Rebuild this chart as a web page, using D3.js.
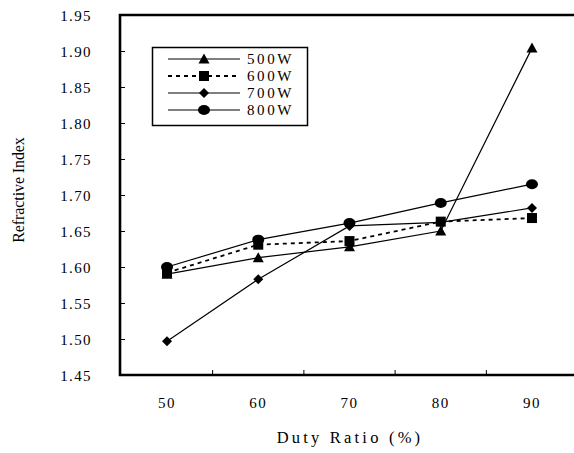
<!DOCTYPE html>
<html>
<head>
<meta charset="utf-8">
<script src="https://cdn.jsdelivr.net/npm/d3@7"></script>
<style>
  body { margin: 0; background: #fff; }
</style>
</head>
<body>
<script>
// data
const dutyRatios = ["50", "60", "70", "80", "90"];
const seriesNames = ["500W", "600W", "700W", "800W"];
const values500 = [1.590, 1.613, 1.628, 1.650, 1.904];
const values600 = [1.592, 1.631, 1.636, 1.663, 1.668];
const values700 = [1.497, 1.583, 1.657, 1.662, 1.682];
const values800 = [1.600, 1.638, 1.661, 1.689, 1.715];
const yTicks = [1.45, 1.50, 1.55, 1.60, 1.65, 1.70, 1.75, 1.80, 1.85, 1.90, 1.95];

const width = 574, height = 453;
const plotLeft = 120, plotTop = 15, plotBottom = 375;
const serif = "'Liberation Serif', 'Times New Roman', Times, serif";

const svg = d3.select("body").append("svg")
  .attr("width", width)
  .attr("height", height);

const x = d3.scaleBand().domain(dutyRatios).range([121.4, 577.6]).padding(0);
const y = d3.scaleLinear().domain([1.45, 1.95]).range([plotBottom, plotTop]);

const series = [
  { name: seriesNames[0], values: values500, shape: "triangle", dash: null },
  { name: seriesNames[1], values: values600, shape: "square", dash: "4,4" },
  { name: seriesNames[2], values: values700, shape: "diamond", dash: null },
  { name: seriesNames[3], values: values800, shape: "circle", dash: null }
];

// y axis, ticks pointing inward
const yAxis = svg.append("g")
  .attr("transform", `translate(${plotLeft},0)`)
  .call(d3.axisLeft(y).tickValues(yTicks).tickFormat(d3.format(".2f")).tickSize(-5).tickPadding(28));
yAxis.attr("font-family", null);
yAxis.select(".domain").remove();
yAxis.selectAll(".tick line").attr("stroke", "#000").attr("stroke-width", 1);
yAxis.selectAll(".tick text")
  .style("font-family", serif)
  .style("font-size", "15px")
  .style("letter-spacing", "1.4px")
  .attr("fill", "#000")
  .attr("dy", "0.36em");

// x axis labels at band centers
const xAxis = svg.append("g")
  .attr("transform", `translate(0,${plotBottom})`)
  .call(d3.axisBottom(x).tickSize(0).tickPadding(22));
xAxis.attr("font-family", null);
xAxis.select(".domain").remove();
xAxis.selectAll(".tick text")
  .style("font-family", serif)
  .style("font-size", "15px")
  .style("letter-spacing", "1.5px")
  .attr("fill", "#000");

// x ticks sit on the band boundaries, inward
svg.append("g").selectAll("line")
  .data(dutyRatios.slice(1))
  .join("line")
  .attr("x1", d => x(d)).attr("x2", d => x(d))
  .attr("y1", plotBottom).attr("y2", plotBottom - 5)
  .attr("stroke", "#000").attr("stroke-width", 1);

// frame: top, left, bottom (right side runs off the page)
svg.append("path")
  .attr("d", `M${width + 5},${plotTop}H${plotLeft}V${plotBottom}H${width + 5}`)
  .attr("fill", "none")
  .attr("stroke", "#000")
  .attr("stroke-width", 2.6);

// axis titles
svg.append("text")
  .attr("transform", `translate(24,190) rotate(-90)`)
  .attr("text-anchor", "middle")
  .style("font-family", serif)
  .style("font-size", "16px")
  .style("letter-spacing", "-0.1px")
  .text("Refractive Index");

svg.append("text")
  .attr("x", 350).attr("y", 443)
  .attr("text-anchor", "middle")
  .style("font-family", serif)
  .style("font-size", "16.5px")
  .style("letter-spacing", "3.2px")
  .text("Duty Ratio (%)");

function drawMarker(g, shape) {
  if (shape === "triangle") {
    g.append("path").attr("d", "M0,-5.5L5.5,4.5L-5.5,4.5Z");
  } else if (shape === "square") {
    g.append("rect").attr("x", -5).attr("y", -5).attr("width", 10).attr("height", 10);
  } else if (shape === "diamond") {
    g.append("path").attr("d", "M0,-5L5,0L0,5L-5,0Z");
  } else {
    g.append("ellipse").attr("rx", 6).attr("ry", 5);
  }
  g.selectAll("*").attr("fill", "#000");
}

const line = d3.line()
  .x((d, i) => x(dutyRatios[i]) + x.bandwidth() / 2)
  .y(d => y(d));

series.forEach(s => {
  svg.append("path")
    .attr("d", line(s.values))
    .attr("fill", "none")
    .attr("stroke", "#000")
    .attr("stroke-width", s.dash ? 1.8 : 1.2)
    .attr("stroke-dasharray", s.dash);
});

series.forEach(s => {
  s.values.forEach((v, i) => {
    const g = svg.append("g")
      .attr("transform", `translate(${x(dutyRatios[i]) + x.bandwidth() / 2},${y(v)})`);
    drawMarker(g, s.shape);
  });
});

// legend
const legend = svg.append("g");
legend.append("rect")
  .attr("x", 152.5).attr("y", 47.5)
  .attr("width", 155).attr("height", 78)
  .attr("fill", "#fff")
  .attr("stroke", "#000")
  .attr("stroke-width", 1.5);

series.forEach((s, i) => {
  const ly = 59 + i * 17;
  const row = legend.append("g");
  row.append("line")
    .attr("x1", 168).attr("x2", 240)
    .attr("y1", ly).attr("y2", ly)
    .attr("stroke", "#000")
    .attr("stroke-width", s.dash ? 1.8 : 1.2)
    .attr("stroke-dasharray", s.dash);
  drawMarker(row.append("g").attr("transform", `translate(204,${ly})`), s.shape);
  row.append("text")
    .attr("x", 247).attr("y", ly)
    .attr("dy", "0.36em")
    .style("font-family", serif)
    .style("font-size", "15px")
    .style("letter-spacing", "2.6px")
    .text(s.name);
});
</script>
</body>
</html>
